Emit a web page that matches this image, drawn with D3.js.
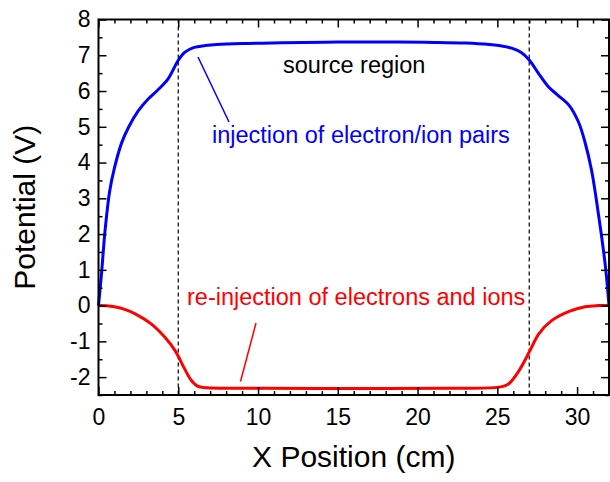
<!DOCTYPE html>
<html>
<head>
<meta charset="utf-8">
<script src="https://cdn.jsdelivr.net/npm/d3@7"></script>
<style>
  html, body { margin: 0; padding: 0; background: #fff; }
  svg { display: block; font-family: 'Liberation Sans', Arial, sans-serif; }
</style>
</head>
<body>
<svg id="chart" width="610" height="482"></svg>
<script>
// ── données ─────────────────────────────────────────────────────────────
const blueX = [0, 0.2, 0.4, 0.7, 1.0, 1.45, 1.9, 2.5, 3.1, 3.7, 4.35, 5.0, 5.4, 6.0, 6.7, 7.4, 9, 11.5, 15, 18.8, 21, 23, 24.5, 25.1, 25.9, 26.5, 27.0, 27.6, 28.2, 28.8, 29.5, 30.1, 30.5, 30.9, 31.2, 31.5, 31.8, 32];
const blueY = [0, 0.95, 2.05, 3.2, 3.85, 4.55, 5.0, 5.45, 5.77, 6.02, 6.33, 6.86, 7.08, 7.22, 7.27, 7.3, 7.33, 7.35, 7.37, 7.37, 7.36, 7.34, 7.3, 7.27, 7.2, 7.08, 6.87, 6.48, 6.12, 5.88, 5.6, 5.12, 4.56, 3.8, 2.98, 2.05, 1.0, 0];

const redX = [0, 0.5, 1.0, 1.6, 2.3, 3.3, 4.15, 4.8, 5.4, 5.8, 6.2, 6.8, 10, 16, 22, 25.1, 25.7, 26.3, 27.0, 27.6, 28.4, 29.5, 30.5, 31.3, 32];
const redY = [0, -0.005, -0.03, -0.1, -0.23, -0.51, -0.88, -1.26, -1.77, -2.08, -2.25, -2.3, -2.31, -2.32, -2.31, -2.28, -2.19, -1.86, -1.3, -0.79, -0.42, -0.16, -0.03, 0, 0];

const boundaries = [5, 27];
const xTicks = [0, 5, 10, 15, 20, 25, 30];
const yTicks = [-2, -1, 0, 1, 2, 3, 4, 5, 6, 7, 8];

const svg = d3.select('#chart');
const L = 98.5, R = 609, T = 19.5, B = 395;

const x = d3.scaleLinear().domain([0, 32]).range([L, R]);
const y = d3.scaleLinear().domain([-2.5, 8]).range([B, T]);

// Lignes pointillées (limites de la région source)
svg.selectAll('.bnd').data(boundaries).enter().append('line')
  .attr('x1', d => x(d)).attr('x2', d => x(d))
  .attr('y1', T).attr('y2', B)
  .attr('stroke', '#000').attr('stroke-width', 1.2).attr('stroke-dasharray', '4,3');

// Courbes
const line = d3.line().x(d => x(d[0])).y(d => y(d[1])).curve(d3.curveCatmullRom.alpha(0.5));
svg.append('path').datum(d3.zip(redX, redY))
  .attr('fill', 'none').attr('stroke', '#ff0000').attr('stroke-width', 3).attr('d', line);
svg.append('path').datum(d3.zip(blueX, blueY))
  .attr('fill', 'none').attr('stroke', '#0000ff').attr('stroke-width', 3).attr('d', line);

// Axes (ticks vers l'intérieur, sur les 4 côtés)
const fmt = d => String(d);
const xMinor = d3.range(0, 33, 1).filter(v => v % 5 !== 0);
const yMinor = d3.range(-2.5, 8.01, 0.5).filter(v => v % 1 !== 0);

const gBottom = svg.append('g').attr('transform', `translate(0,${B})`)
  .call(d3.axisBottom(x).tickValues(xTicks).tickSize(-8).tickPadding(14).tickFormat(fmt));
const gBottomMin = svg.append('g').attr('transform', `translate(0,${B})`)
  .call(d3.axisBottom(x).tickValues(xMinor).tickSize(-4).tickFormat(''));
const gTop = svg.append('g').attr('transform', `translate(0,${T})`)
  .call(d3.axisTop(x).tickValues(xTicks).tickSize(-8).tickFormat(''));
const gTopMin = svg.append('g').attr('transform', `translate(0,${T})`)
  .call(d3.axisTop(x).tickValues(xMinor).tickSize(-4).tickFormat(''));
const gLeft = svg.append('g').attr('transform', `translate(${L},0)`)
  .call(d3.axisLeft(y).tickValues(yTicks).tickSize(-8).tickPadding(8).tickFormat(fmt));
const gLeftMin = svg.append('g').attr('transform', `translate(${L},0)`)
  .call(d3.axisLeft(y).tickValues(yMinor).tickSize(-4).tickFormat(''));
const gRight = svg.append('g').attr('transform', `translate(${R},0)`)
  .call(d3.axisRight(y).tickValues(yTicks).tickSize(-8).tickFormat(''));
const gRightMin = svg.append('g').attr('transform', `translate(${R},0)`)
  .call(d3.axisRight(y).tickValues(yMinor).tickSize(-4).tickFormat(''));

[gBottom, gBottomMin, gTop, gTopMin, gLeft, gLeftMin, gRight, gRightMin].forEach(g => {
  g.select('.domain').remove();
  g.selectAll('.tick line').attr('stroke', '#000').attr('stroke-width', 1.5);
  g.selectAll('text').attr('fill', '#000').attr('font-size', '23px')
    .attr('font-family', "'Liberation Sans', Arial, sans-serif");
});

// Cadre
svg.append('rect').attr('x', L).attr('y', T).attr('width', R - L).attr('height', B - T)
  .attr('fill', 'none').attr('stroke', '#000').attr('stroke-width', 2);

// Titres d'axes
svg.append('text').attr('x', (L + R) / 2).attr('y', 467).attr('text-anchor', 'middle')
  .attr('font-size', '30px').attr('fill', '#000').text('X Position (cm)');
svg.append('text').attr('transform', `translate(35,${(T + B) / 2}) rotate(-90)`)
  .attr('text-anchor', 'middle').attr('font-size', '30px').attr('fill', '#000').text('Potential (V)');

// Annotations
svg.append('text').attr('x', 283).attr('y', 73).attr('font-size', '23.5px').attr('fill', '#000')
  .text('source region');
svg.append('text').attr('x', 212).attr('y', 143).attr('font-size', '23.5px').attr('fill', '#0000ff')
  .text('injection of electron/ion pairs');
svg.append('line').attr('x1', 198).attr('y1', 57).attr('x2', 229).attr('y2', 122)
  .attr('stroke', '#0000ff').attr('stroke-width', 1.5);
svg.append('text').attr('x', 187).attr('y', 305).attr('font-size', '23.5px').attr('fill', '#ff0000')
  .text('re-injection of electrons and ions');
svg.append('line').attr('x1', 256).attr('y1', 323).attr('x2', 240.5).attr('y2', 381.5)
  .attr('stroke', '#ff0000').attr('stroke-width', 1.5);
</script>
</body>
</html>
